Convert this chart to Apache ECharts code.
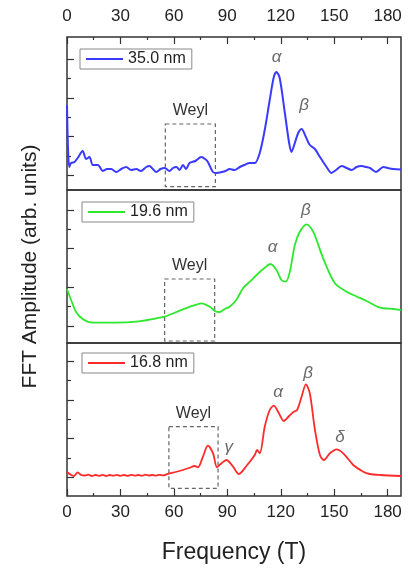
<!DOCTYPE html>
<html>
<head>
<meta charset="utf-8">
<script src="https://cdn.jsdelivr.net/npm/echarts@6/dist/echarts.min.js"></script>
<style>
  html, body { margin: 0; padding: 0; background: #fff; }
  #chart { width: 408px; height: 569px; }
</style>
</head>
<body>
<div id="chart"></div>
<script>
// frequency (T) vs amplitude (arb. units, panel height = 153)
const spec35 = [
  [0, 85], [0.6, 40], [1.3, 23], [2.3, 27], [4.2, 28], [6, 32], [8.8, 39], [10.7, 31],
  [12.6, 33], [14.5, 25], [17.3, 25], [20.1, 19], [22.5, 21], [24.8, 21], [27.6, 18],
  [30.5, 21], [33.2, 23], [36, 20], [38.9, 21], [41.5, 19], [44.5, 23], [46.3, 24],
  [48.2, 21], [50.1, 18], [52.5, 21], [54.8, 22], [57.5, 19], [59.5, 22], [61.4, 23],
  [63.2, 20], [65.1, 25], [66.8, 21], [68.8, 27], [72, 29], [75.4, 33], [77.5, 31],
  [79.1, 28], [81.9, 18], [83.9, 17], [87, 18], [89, 19], [91.3, 21], [94, 20], [97, 23],
  [99.5, 25], [102.6, 27], [105.4, 27], [108.2, 37], [111, 60], [113.8, 90], [116.1, 113],
  [117.6, 118], [119.4, 112], [122.3, 77], [124.7, 47], [126, 38], [127.9, 47], [129.8, 57],
  [131.7, 61], [134.1, 53], [136.3, 45], [139.2, 41], [142, 33], [145.7, 23], [148.5, 17],
  [151, 20], [154.2, 24], [157, 22], [159.8, 20], [162.5, 23], [165.4, 24], [168, 23],
  [170.1, 22], [173.5, 18], [177.6, 23], [180, 22], [183, 21], [187.5, 20.5]
]
const spec196 = [
  [0, 54], [2.3, 43], [5.1, 31], [8.8, 24], [14.5, 20.3], [27.6, 20.3], [38.9, 21.3],
  [50.1, 24.7], [54.8, 26.3], [63.2, 32.3], [70.7, 37.3], [75.4, 39.7], [80.1, 36.3],
  [83.5, 31.5], [85.7, 31], [88.5, 34], [91.3, 36.3], [95, 43], [98.8, 54.7], [102.6, 61.3],
  [106.4, 68], [111, 75.3], [114.2, 79], [117.6, 73], [120.4, 63], [122.8, 61.3],
  [125.1, 71.3], [127.9, 98], [130.7, 111.3], [134.5, 118.7], [138.2, 111.3], [143.8, 84.7],
  [150.4, 59.7], [157, 51.3], [162, 47], [168.2, 42], [175.7, 35.3], [183.2, 34], [187.5, 33]
]
const spec168 = [
  [0, 24], [2.3, 21], [4, 20], [6, 23.7], [7.9, 21], [10, 20.5], [12, 21.3], [14, 20],
  [16, 21], [18, 20.2], [20, 21.2], [22, 20], [24, 21], [26, 20.3], [28, 21.2], [30, 20.2],
  [32, 21], [34, 20.1], [36, 21.2], [38, 20.4], [40, 21], [42, 20.2], [44, 21.3], [46, 20.5],
  [48, 21], [50, 20.4], [52, 21.2], [54, 20.6], [57.6, 22.7], [61, 24], [65.1, 26],
  [68.5, 28], [71.7, 30], [73.5, 28.7], [76.3, 39.3], [79.1, 50.3], [82, 42.7], [84.2, 28.7],
  [86.7, 32.7], [89.5, 36], [93.2, 29.3], [96.4, 22], [100.7, 30], [105.4, 41], [106.7, 46],
  [108.2, 42.7], [111, 69.3], [113.8, 86], [116.1, 90.3], [118.5, 84.3], [121.7, 75],
  [124.7, 80], [127.3, 84.3], [129.2, 86], [131.7, 99.3], [134.1, 111.7], [136.3, 102.7],
  [139.2, 66], [142, 41], [144.2, 36], [147.6, 42.7], [151.3, 46.7], [155.1, 42.7],
  [160.7, 31], [166.3, 24.3], [170, 22], [175.7, 21], [187.5, 20]
]

const seriesNames = ['35.0 nm', '19.6 nm', '16.8 nm']
const seriesColors = ['#3a3aff', '#2ee82e', '#ff2a2a']
const xTickLabels = [0, 30, 60, 90, 120, 150, 180]
const xMinorTicks = [15, 45, 75, 105, 135, 165]

// peak annotations [freq, amplitude, label]
const peaks35 = [[117.6, 133, 'α'], [133.1, 85, 'β']]
const peaks196 = [[115.4, 96, 'α'], [134.1, 133, 'β']]
const peaks168 = [[90.8, 49, 'γ'], [118.5, 104, 'α'], [135.4, 123, 'β'], [153.2, 59, 'δ']]

// Weyl boxes [f0, f1, a0, a1]
const weylBoxes = [[55.2, 83.3, 3.3, 66], [54.8, 82.9, 2, 64], [57.2, 84.8, 7.7, 69.3]]

// first major y tick per panel (arb. units)
const yTickStart = [14.7, 17, 18.7]

const chart = echarts.init(document.getElementById('chart'))

const FONT = 'Liberation Sans'
const LEFT = 67, RIGHT = 7, PH = 153
const tops = [37, 190, 343]
const tickLine = { color: '#333', width: 1.2 }

const grids = [], xAxes = [], yAxes = [], series = [], legends = []
const specs = [spec35, spec196, spec168]
const peaks = [peaks35, peaks196, peaks168]
const legendPos = [[80, 49], [82, 202], [82, 353]]

// main grids 0..2 hold the data, overlay grids 3..5 only carry the minor ticks
for (let i = 0; i < 6; i++) {
  const p = i % 3
  grids.push({
    left: LEFT, right: RIGHT, top: tops[p], height: PH,
    show: i < 3, borderColor: '#333', borderWidth: 1.5, backgroundColor: 'transparent'
  })
}

for (let i = 0; i < 3; i++) {
  const isTop = i === 0
  const isBottom = i === 2
  xAxes.push({
    gridIndex: i, type: 'value', min: 0, max: 187.5,
    position: isTop ? 'top' : 'bottom',
    axisLine: { show: false, onZero: false }, splitLine: { show: false },
    axisTick: {
      show: isTop || isBottom, inside: true, length: 7,
      customValues: xTickLabels, lineStyle: tickLine
    },
    axisLabel: {
      show: isTop || isBottom, customValues: xTickLabels, margin: isTop ? 12 : 8,
      fontSize: 17, color: '#222', fontFamily: FONT
    },
    name: isBottom ? 'Frequency (T)' : '',
    nameLocation: 'middle', nameGap: 45,
    nameTextStyle: { fontSize: 23, color: '#222', fontFamily: FONT }
  })

  const majors = [], minors = []
  for (let k = 0; k < 4; k++) majors.push(yTickStart[i] + k * 38.7)
  for (let k = 0; k < 3; k++) minors.push(yTickStart[i] + 19.35 + k * 38.7)
  yAxes.push({
    gridIndex: i, type: 'value', min: 0, max: PH, position: 'left',
    axisLine: { show: false, onZero: false }, splitLine: { show: false }, axisLabel: { show: false },
    axisTick: { inside: true, length: 7, customValues: majors, lineStyle: tickLine },
    name: i === 1 ? 'FFT Amplitude (arb. units)' : '',
    nameLocation: 'middle', nameGap: 26,
    nameTextStyle: { fontSize: 21, color: '#222', fontFamily: FONT }
  })
  series.push({
    name: seriesNames[i],
    type: 'line',
    xAxisIndex: i, yAxisIndex: i,
    data: specs[i],
    symbol: 'none',
    smooth: 0.3,
    lineStyle: { color: seriesColors[i], width: i === 0 ? 2 : 1.8 },
    itemStyle: { color: seriesColors[i] },
    markArea: {
      silent: true,
      itemStyle: { color: 'transparent', borderColor: '#666', borderWidth: 1.2, borderType: [4, 3] },
      label: { show: true, position: 'top', distance: 5, fontSize: 16, color: '#333', fontFamily: FONT },
      data: [[
        { name: 'Weyl', coord: [weylBoxes[i][0], weylBoxes[i][3]] },
        { coord: [weylBoxes[i][1], weylBoxes[i][2]] }
      ]]
    }
  })
  series.push({
    type: 'scatter',
    xAxisIndex: i, yAxisIndex: i,
    data: peaks[i],
    symbolSize: 0,
    silent: true,
    label: {
      show: true, position: 'inside',
      formatter: p => p.data[2],
      fontSize: 17, fontStyle: 'italic', color: '#444', fontFamily: FONT
    }
  })
  legends.push({
    data: [seriesNames[i]],
    left: legendPos[i][0], top: legendPos[i][1],
    icon: 'path://M0,0 L37,0 L37,2 L0,2 Z',
    borderColor: '#888', borderWidth: 1, borderRadius: 0,
    padding: [2, 6, 2, 6],
    itemWidth: 37, itemHeight: 14, itemGap: 5,
    textStyle: { fontSize: 16, color: '#222', fontFamily: FONT },
    selectedMode: false
  })
}

// minor ticks on overlay grids
for (let i = 0; i < 3; i++) {
  const minors = []
  for (let k = 0; k < 3; k++) minors.push(yTickStart[i] + 19.35 + k * 38.7)
  xAxes.push({
    gridIndex: 3 + i, type: 'value', min: 0, max: 187.5,
    position: i === 0 ? 'top' : 'bottom',
    axisLine: { show: false, onZero: false }, splitLine: { show: false }, axisLabel: { show: false },
    axisTick: { show: i !== 1, inside: true, length: 3, customValues: xMinorTicks, lineStyle: tickLine }
  })
  yAxes.push({
    gridIndex: 3 + i, type: 'value', min: 0, max: PH, position: 'left',
    axisLine: { show: false, onZero: false }, splitLine: { show: false }, axisLabel: { show: false },
    axisTick: { inside: true, length: 4, customValues: minors, lineStyle: tickLine }
  })
}

chart.setOption({
  animation: false,
  backgroundColor: '#fff',
  textStyle: { fontFamily: FONT },
  grid: grids,
  xAxis: xAxes,
  yAxis: yAxes,
  legend: legends,
  series: series
})
</script>
</body>
</html>
